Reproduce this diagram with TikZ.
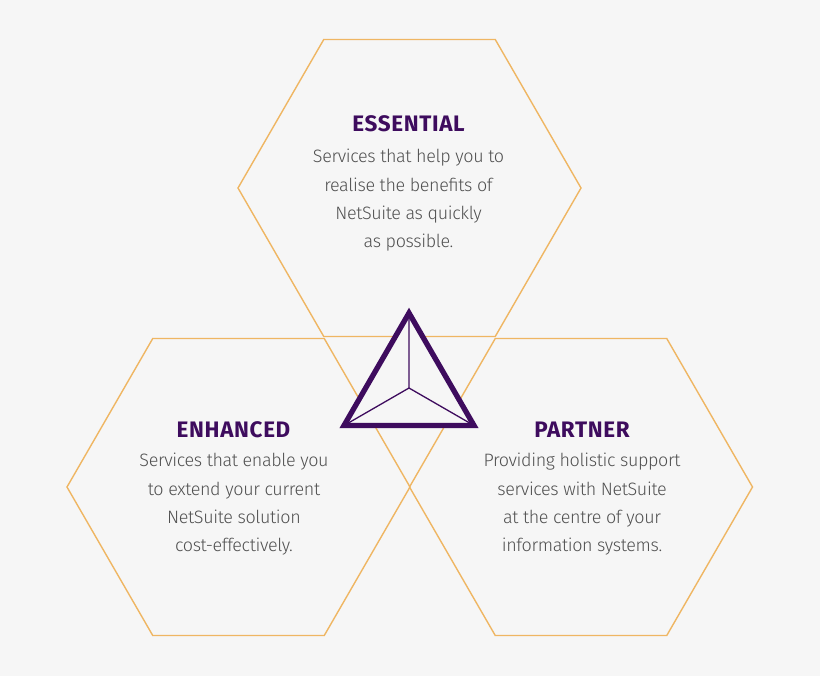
\documentclass[tikz,border=0pt]{standalone}
\usepackage{fontspec}
\setmainfont{Fira Sans}[UprightFont=* Light, BoldFont=* Bold]
\newfontfamily\headfont{Fira Sans Bold}[LetterSpace=3]
\newfontfamily\bodyfont{Fira Sans Light}[LetterSpace=-2]
\definecolor{bgc}{HTML}{F6F6F6}
\definecolor{hexc}{HTML}{EFB663}
\definecolor{purp}{HTML}{3E0C5E}
\definecolor{txt}{HTML}{505050}
\tikzset{
  hexline/.style={draw=hexc, line width=1.4bp, line join=miter},
  head/.style={font=\headfont\fontsize{22.5}{24}\selectfont, text=purp, inner sep=0pt, anchor=base},
  body/.style={font=\bodyfont\fontsize{18}{28.5}\selectfont, text=txt, inner sep=0pt, anchor=north, align=center},
}
\begin{document}
\begin{tikzpicture}[x=1bp,y=-1bp]
\fill[bgc] (0,0) rectangle (820,676);
\useasboundingbox (0,0) rectangle (820,676);
% hexagons
\coordinate (ctop) at (409.5,188);
\coordinate (cleft) at (238.5,487);
\coordinate (cright) at (581,487);
\foreach \c in {ctop,cleft,cright}{
  \draw[hexline] (\c) ++(-171.5,0) -- ++(85.75,-148.5) -- ++(171.5,0) -- ++(85.75,148.5) -- ++(-85.75,148.5) -- ++(-171.5,0) -- cycle;
}
% triangle
\coordinate (ta) at (409,313);
\coordinate (tr) at (474,425.5);
\coordinate (tl) at (344,425.5);
\coordinate (tc) at (409,388);
\fill[bgc] (ta) -- (tr) -- (tl) -- cycle;
\draw[purp, line width=1.3bp] (tc) -- (ta) (tc) -- (tr) (tc) -- (tl);
\draw[purp, line width=5.3bp, line join=miter] (ta) -- (tr) -- (tl) -- cycle;
% texts
\node[head] (h1) at (408.5,132) {ESSENTIAL};
\node[body] (b1) at (408.5,149) {Services that help you to\\realise the benefits of\\NetSuite as quickly\\as possible.};
\node[head] (h2) at (233.5,437) {ENHANCED};
\node[body] (b2) at (234,453) {Services that enable you\\to extend your current\\NetSuite solution\\cost-effectively.};
\node[head] (h3) at (582,437) {PARTNER};
\node[body] (b3) at (582,453) {Providing holistic support\\services with NetSuite\\at the centre of your\\information systems.};
\end{tikzpicture}
\end{document}
